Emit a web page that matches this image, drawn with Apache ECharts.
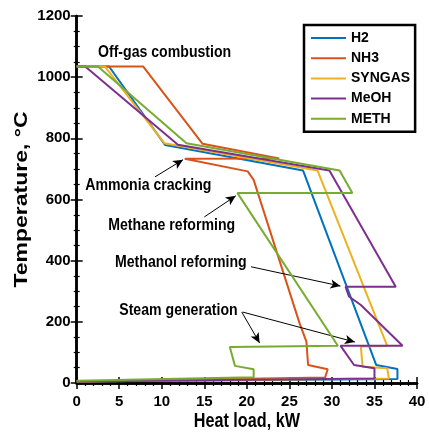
<!DOCTYPE html>
<html>
<head>
<meta charset="utf-8">
<script src="https://cdn.jsdelivr.net/npm/echarts@6/dist/echarts.min.js"></script>
<style>
  html, body { margin: 0; padding: 0; background: #fff; }
  #chart { width: 429px; height: 434px; }
</style>
</head>
<body>
<div id="chart"></div>
<script>
const names = ['H2', 'NH3', 'SYNGAS', 'MeOH', 'METH']
const colors = ['#0072BD', '#D95319', '#EDB120', '#7E2F8E', '#77AC30']

// heat load (kW) / temperature (C) along each composite path
const h2X = [0, 3.8, 10.4, 26.6, 35.2, 37.7, 37.7, 0]
const h2Y = [1035, 1035, 778, 695, 59, 46, 13, 5]
const nh3X = [0, 7.8, 14.8, 23.8, 12.7, 20.1, 20.8, 26.2, 27.0, 27.2, 29.5, 29.2, 0]
const nh3Y = [1035, 1035, 782, 734, 733, 692, 664, 195, 135, 59, 45, 18, 5]
const synX = [0, 3.3, 10.3, 28.3, 36.5, 33.4, 33.6, 36.5, 36.7, 0]
const synY = [1035, 1035, 784, 695, 121, 119, 53, 48, 15, 5]
const meohX = [0, 1.0, 11.9, 29.7, 37.5, 31.6, 32.0, 33.4, 38.3, 31.0, 32.6, 35.0, 35.0, 0]
const meohY = [1035, 1035, 779, 695, 315, 315, 283, 255, 122, 122, 59, 48, 15, 5]
const methX = [0, 2.5, 12.9, 30.9, 32.4, 18.9, 30.7, 18.0, 18.6, 20.8, 20.8, 0]
const methY = [1035, 1035, 784, 695, 621, 621, 122, 118, 56, 45, 19, 7]

const xs = [h2X, nh3X, synX, meohX, methX]
const ys = [h2Y, nh3Y, synY, meohY, methY]

// annotations (data coords)
const noteText = ['Off-gas combustion', 'Ammonia cracking', 'Methane reforming', 'Methanol reforming', 'Steam generation']
const noteX = [2.5, 1.0, 3.7, 4.5, 5.0]
const noteY = [1080, 645, 517, 396, 239]
const arrowFrom = [[9.2, 674], [15.0, 543], [20.5, 380], [19.4, 232], [19.5, 232]]
const arrowTo = [[12.5, 730], [18.7, 612], [31.0, 317], [21.5, 131], [32.7, 134]]

const font = "'Liberation Sans', Arial, sans-serif"
const squeeze = 0.83

const chart = echarts.init(document.getElementById('chart'))

const frame = { show: true, lineStyle: { color: '#000', width: 2.5 } }
const tick = { show: true, inside: true, length: 6, lineStyle: { color: '#000', width: 1.5 } }

function xAx(pos, label) {
  return {
    type: 'value', position: pos, min: 0, max: 40, interval: 5,
    axisLine: frame, axisTick: tick,
    minorTick: { show: true, splitNumber: 5, length: 3, lineStyle: { color: '#000', width: 1.2 } },
    splitLine: { show: false },
    axisLabel: { show: label, color: '#000', fontFamily: font, fontWeight: 'bold', fontSize: 15, margin: 11 }
  }
}
function yAx(pos, label) {
  return {
    type: 'value', position: pos, min: 0, max: 1200, interval: 200,
    axisLine: frame, axisTick: tick,
    minorTick: { show: true, splitNumber: 4, length: 3, lineStyle: { color: '#000', width: 1.2 } },
    splitLine: { show: false },
    axisLabel: {
      show: label, color: '#000', fontFamily: font, fontWeight: 'bold', fontSize: 15, margin: 6,
      formatter: v => String(v)
    }
  }
}

const series = names.map((n, i) => ({
  name: n,
  type: 'line',
  data: xs[i].map((x, j) => [x, ys[i][j]]),
  symbol: 'none',
  lineStyle: { color: colors[i], width: 2 },
  itemStyle: { color: colors[i] },
  z: 2 + i
}))

series.push({
  name: 'arrows',
  type: 'line',
  data: [],
  markLine: {
    silent: true,
    symbol: ['none', 'arrow'],
    symbolSize: [7, 10],
    lineStyle: { color: '#000', width: 1, type: 'solid' },
    label: { show: false },
    data: arrowFrom.map((f, i) => [{ coord: f }, { coord: arrowTo[i] }])
  }
})

chart.setOption({
  animation: false,
  grid: { left: 76.7, right: 12, top: 16, bottom: 51 },
  xAxis: [xAx('bottom', true), xAx('top', false)],
  yAxis: [yAx('left', true), yAx('right', false)],
  legend: {
    data: names,
    orient: 'vertical',
    left: 304, top: 25,
    padding: [6, 5, 6, 6],
    itemWidth: 35, itemHeight: 14, itemGap: 6.2,
    itemStyle: { opacity: 0 },
    borderColor: '#000', borderWidth: 2.5,
    backgroundColor: '#fff',
    textStyle: { color: '#000', fontFamily: font, fontWeight: 'bold', fontSize: 14, lineHeight: 14 }
  },
  series: series
})

// text labels, placed through the grid's scales
const txt = (x, y, text, size, align) => ({
  type: 'text', x: x, y: y, scaleX: squeeze, silent: true, z: 100,
  style: { text: text, fill: '#000', font: 'bold ' + size + 'px ' + font, textAlign: align || 'left', textVerticalAlign: 'middle' }
})

const graphics = noteText.map((t, i) => {
  const p = chart.convertToPixel({ gridIndex: 0 }, [noteX[i], noteY[i]])
  return txt(p[0], p[1], t, 17)
})
const xMid = chart.convertToPixel({ xAxisIndex: 0 }, 20)
const yMid = chart.convertToPixel({ yAxisIndex: 0 }, 600)
graphics.push(txt(xMid, 421.5, 'Heat load, kW', 19.5, 'center'))
graphics.push({
  type: 'text', x: 22, y: yMid, rotation: Math.PI / 2, scaleY: squeeze, silent: true, z: 100,
  style: { text: 'Temperature, \u00b0C', fill: '#000', font: 'bold 23px ' + font, textAlign: 'center', textVerticalAlign: 'middle' }
})

chart.setOption({ graphic: graphics })
</script>
</body>
</html>
